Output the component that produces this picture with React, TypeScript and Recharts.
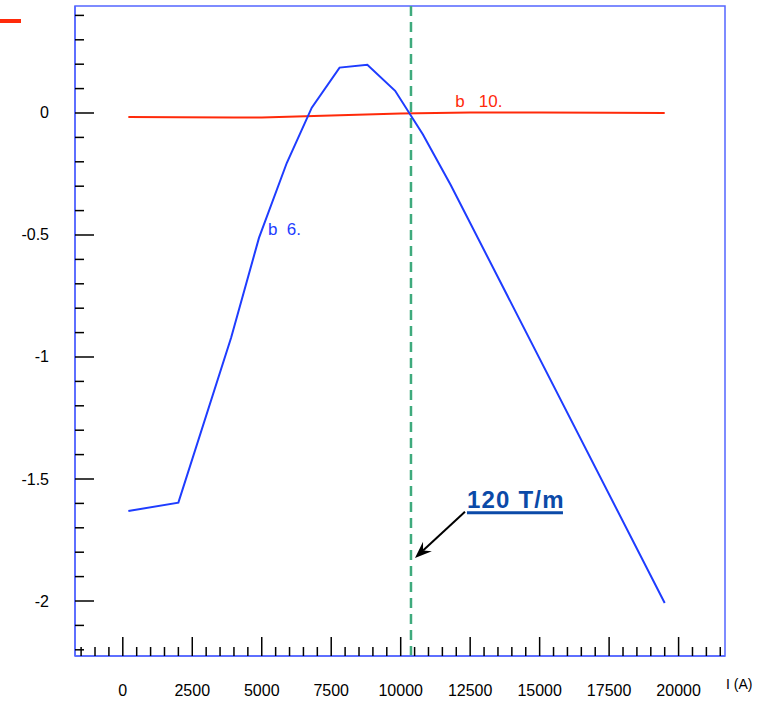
import React from 'react';
import { LineChart, Line, XAxis, YAxis, ReferenceLine, ReferenceArea, LabelList } from 'recharts';

// b6 harmonic vs current
const b6Current = [200, 2000, 3900, 4900, 5900, 6800, 7800, 8800, 9800, 10800, 11800, 19500];
const b6Values = [-1.631, -1.597, -0.92, -0.512, -0.205, 0.022, 0.186, 0.198, 0.091, -0.088, -0.295, -2.008];

// b10 harmonic vs current
const b10Current = [200, 2000, 4000, 5000, 7500, 10000, 12500, 15000, 17500, 19500];
const b10Values = [-0.016, -0.017, -0.018, -0.018, -0.01, -0.002, 0.002, 0.002, 0.001, 0.0];

const xMajorTicks = [0, 2500, 5000, 7500, 10000, 12500, 15000, 17500, 20000];
const yMajorTicks = [-2, -1.5, -1, -0.5, 0];
const xDomain: [number, number] = [-1720, 21670];
const yDomain: [number, number] = [-2.2254, 0.4385];

const markerCurrent = 10370;
const annotationText = '120 T/m';
const arrowFrom = { x: 12313, y: -1.634 };
const arrowTo = { x: 10514, y: -1.824 };

const b6Label = 'b  6.';
const b10Label = 'b   10.';
const xAxisTitle = 'I (A)';

const xMinorTicks: number[] = [];
for (let v = -1500; v <= 21500; v += 500) xMinorTicks.push(v);
const yMinorTicks: number[] = [];
for (let i = 4; i >= -22; i--) yMinorTicks.push(Math.round(i) / 10);

const b6Data = b6Current.map((x, i) => ({ x, y: b6Values[i] }));
const b10Data = b10Current.map((x, i) => ({ x, y: b10Values[i] }));

const FRAME = '#5466ff';
const BLUE = '#1e3cff';
const RED = '#ff2a0a';
const GREEN = '#3faa7d';
const FONT = '"Liberation Sans", Arial, sans-serif';

const isMajorX = (v: number) => xMajorTicks.includes(v);
const isMajorY = (v: number) => yMajorTicks.some((m) => Math.abs(m - v) < 1e-6);

const XTick = (props: any) => {
  const { x, y, payload } = props;
  const v = payload.value;
  const major = isMajorX(v);
  return (
    <g>
      <line x1={x} x2={x} y1={y} y2={y - (major ? 19 : 9)} stroke="#000" strokeWidth={1.5} />
      {major && (
        <text x={x} y={y + 40} textAnchor="middle" fontSize={16} fontFamily={FONT} fill="#000">
          {v}
        </text>
      )}
    </g>
  );
};

const YTick = (props: any) => {
  const { x, y, payload } = props;
  const v = payload.value;
  const major = isMajorY(v);
  return (
    <g>
      <line x1={x} x2={x + (major ? 19 : 9)} y1={y} y2={y} stroke="#000" strokeWidth={1.5} />
      {major && (
        <text x={x - 26} y={y + 5.5} textAnchor="end" fontSize={16} fontFamily={FONT} fill="#000">
          {String(v)}
        </text>
      )}
    </g>
  );
};

const pointLabel = (text: string, idx: number, dx: number, dy: number, color: string) => (props: any) => {
  if (props.index !== idx) return null;
  const px = props.x ?? props.viewBox?.x;
  const py = props.y ?? props.viewBox?.y;
  if (px == null || py == null) return null;
  return (
    <text x={px + dx} y={py + dy} fontSize={17} fontFamily={FONT} fill={color} style={{ whiteSpace: 'pre' }}>
      {text}
    </text>
  );
};

const ArrowShape = (props: any) => {
  const { x1, y1, x2, y2 } = props;
  const dx = x2 - x1;
  const dy = y2 - y1;
  const len = Math.sqrt(dx * dx + dy * dy) || 1;
  const ux = dx / len;
  const uy = dy / len;
  const nx = -uy;
  const ny = ux;
  const hl = 17;
  const hw = 6.5;
  const bx = x2 - ux * hl;
  const by = y2 - uy * hl;
  const notchX = x2 - ux * 11;
  const notchY = y2 - uy * 11;
  const pts = [
    [x2, y2],
    [bx + nx * hw, by + ny * hw],
    [notchX, notchY],
    [bx - nx * hw, by - ny * hw],
  ]
    .map((p) => p.join(','))
    .join(' ');
  return (
    <g>
      <line x1={x1} y1={y1} x2={notchX} y2={notchY} stroke="#000" strokeWidth={2} />
      <polygon points={pts} fill="#000" />
      <text
        x={x1 + 2}
        y={y1 - 4}
        fontSize={24}
        fontWeight="bold"
        fontFamily={FONT}
        letterSpacing={1.2}
        fill="#0b4aa8"
      >
        {annotationText}
      </text>
      <line x1={x1 + 2} x2={x1 + 98} y1={y1 + 1} y2={y1 + 1} stroke="#0b4aa8" strokeWidth={3} />
    </g>
  );
};

export default function App() {
  return (
    <div style={{ position: 'absolute', left: 0, top: 0, width: 768, height: 701, fontFamily: FONT, background: '#fff' }}>
      <div style={{ position: 'absolute', left: 0, top: 19, width: 21, height: 4, background: RED }} />
      <LineChart width={768} height={701} margin={{ top: 6, right: 43, left: 0, bottom: 0 }}>
        <ReferenceArea
          x1={xDomain[0]}
          x2={xDomain[1]}
          y1={yDomain[0]}
          y2={yDomain[1]}
          fill="none"
          stroke={FRAME}
          strokeWidth={1.5}
          fillOpacity={0}
        />
        <XAxis
          type="number"
          dataKey="x"
          domain={xDomain}
          allowDataOverflow
          ticks={xMinorTicks}
          interval={0}
          height={45}
          tickSize={0}
          tickMargin={0}
          tickLine={false}
          axisLine={{ stroke: FRAME, strokeWidth: 1.5 }}
          tick={<XTick />}
          label={{
            content: (p: any) => {
              const vb = p.viewBox || {};
              return (
                <text x={(vb.x ?? 75) + (vb.width ?? 650) + 1} y={(vb.y ?? 656) + 33} fontSize={14} fontFamily={FONT} fill="#000">
                  {xAxisTitle}
                </text>
              );
            },
          }}
        />
        <YAxis
          type="number"
          dataKey="y"
          domain={yDomain}
          allowDataOverflow
          ticks={yMinorTicks}
          interval={0}
          width={75}
          tickSize={0}
          tickMargin={0}
          tickLine={false}
          axisLine={{ stroke: FRAME, strokeWidth: 1.5 }}
          tick={<YTick />}
        />
        <ReferenceLine x={markerCurrent} stroke={GREEN} strokeWidth={2.5} strokeDasharray="10 6" />
        <Line
          data={b10Data}
          dataKey="y"
          type="linear"
          stroke={RED}
          strokeWidth={2}
          dot={false}
          isAnimationActive={false}
        >
          <LabelList dataKey="y" content={pointLabel(b10Label, 6, -15, -6, RED)} />
        </Line>
        <Line
          data={b6Data}
          dataKey="y"
          type="linear"
          stroke={BLUE}
          strokeWidth={2}
          dot={false}
          isAnimationActive={false}
        >
          <LabelList dataKey="y" content={pointLabel(b6Label, 3, 9, -3, BLUE)} />
        </Line>
        <ReferenceLine segment={[arrowFrom, arrowTo]} stroke="#000" shape={<ArrowShape />} />
      </LineChart>
    </div>
  );
}
